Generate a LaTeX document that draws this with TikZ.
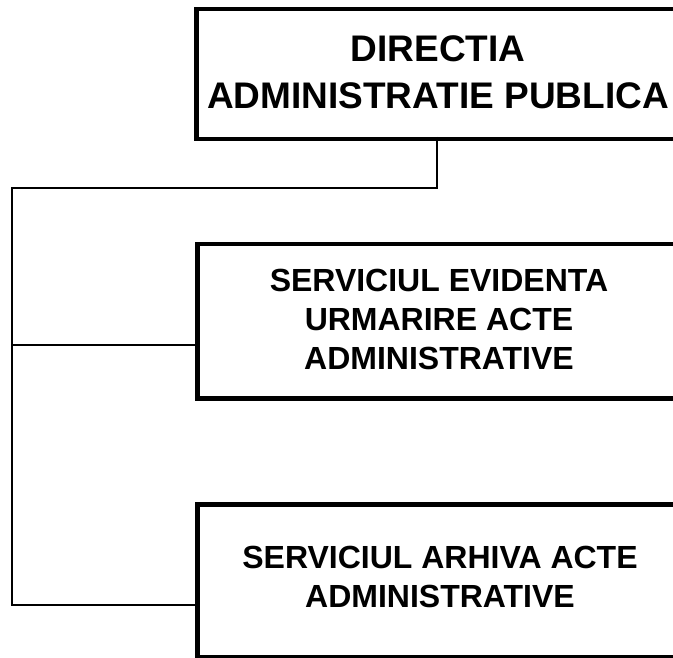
\documentclass[tikz,border=0pt]{standalone}
\usepackage{fontspec}
\setmainfont{Liberation Sans}
\begin{document}
\begin{tikzpicture}[x=1pt,y=1pt,
  box/.style={draw=black,line width=4.5pt,fill=none,rectangle,inner sep=0pt,anchor=north west},
  conn/.style={draw=black,line width=2pt},
  toptext/.style={font=\fontsize{37}{47}\selectfont\bfseries,align=center,inner sep=0pt},
  subtext/.style={font=\fontsize{32}{39}\selectfont\bfseries,align=center,inner sep=0pt}]
\useasboundingbox (0,0) rectangle (673,-658);
\clip (0,0) rectangle (673,-658);
\node[box,minimum width=520pt,minimum height=130pt] (top) at (194,-7) {};
\node[box,minimum width=520pt,minimum height=154pt] (b2) at (195,-242) {};
\node[box,minimum width=520pt,minimum height=153pt] (b3) at (195,-502) {};
\node[toptext] (t1) at (438,-72) {DIRECTIA\\ADMINISTRATIE PUBLICA};
\node[subtext] (t2) at (439,-319) {SERVICIUL EVIDENTA\\URMARIRE ACTE\\ADMINISTRATIVE};
\node[subtext] (t3) at (440,-577) {SERVICIUL ARHIVA ACTE\\ADMINISTRATIVE};
\coordinate (d) at (437,-137);
\coordinate (j) at (12,-188);
\coordinate (c2) at (195,-345);
\coordinate (c3) at (195,-605);
\draw[conn] (d) |- (j) -- (j |- c3) -- (c3);
\draw[conn] (j |- c2) -- (c2);
\end{tikzpicture}
\end{document}
